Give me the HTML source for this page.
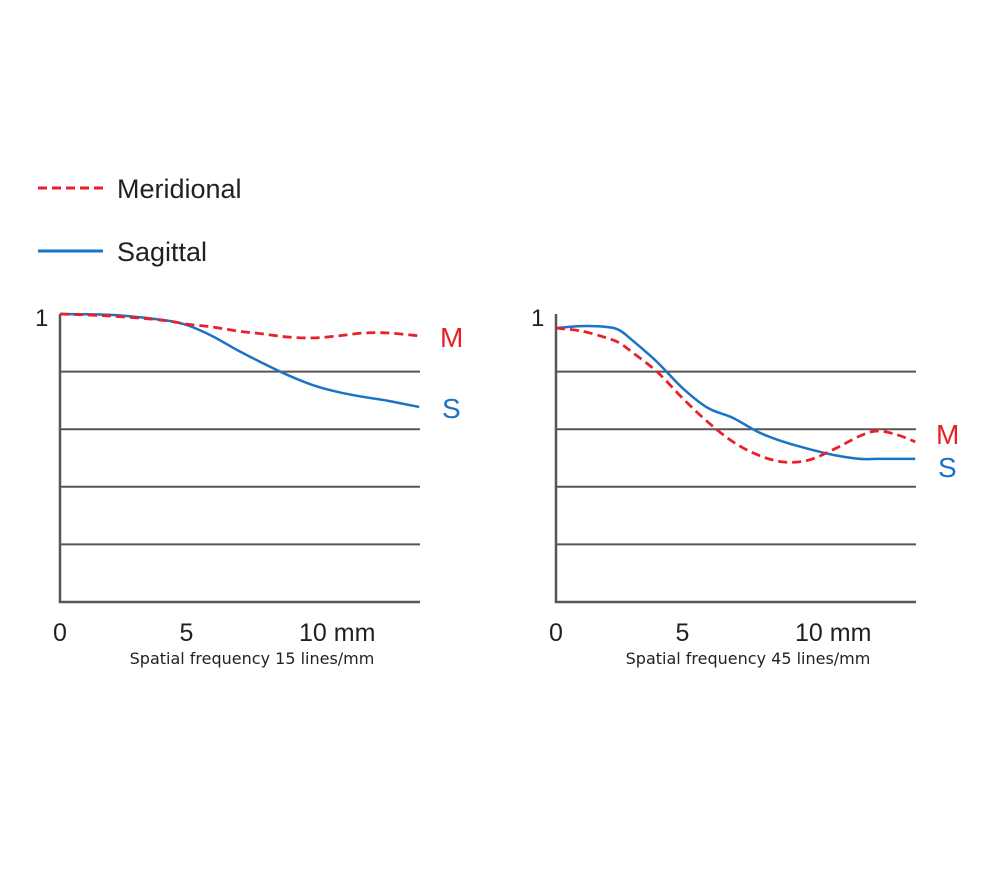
<!DOCTYPE html>
<html><head><meta charset="utf-8"><style>
body{margin:0;background:#fff;width:1000px;height:875px;overflow:hidden}
svg{display:block}
</style></head><body>
<svg id="chart" width="1000" height="875" xmlns="http://www.w3.org/2000/svg" font-family="Liberation Sans, sans-serif">
<g>
 <line x1="38" y1="188" x2="103" y2="188" stroke="#e8202a" stroke-width="3" stroke-dasharray="9,5"/>
 <text x="117" y="198" font-size="27" fill="#231f20">Meridional</text>
 <line x1="38" y1="251" x2="103" y2="251" stroke="#1a73c4" stroke-width="3"/>
 <text x="117" y="261" font-size="27" fill="#231f20">Sagittal</text>
</g>
</svg>
<script>
const xTicks=[0,5,10];
const leftX=[0,2,4,5,6,7,8,9,10,11,12,13,14.2];
const leftM=[1.0,0.993,0.979,0.965,0.955,0.941,0.931,0.92,0.917,0.924,0.934,0.934,0.924];
const leftS=[1.0,0.997,0.98,0.962,0.924,0.875,0.83,0.788,0.753,0.729,0.712,0.698,0.677];
const rightX=[0,1,2,2.5,3,4,5,6,7,8,9,10,11,12,12.7,13.5,14.2];
const rightS=[0.951,0.958,0.955,0.944,0.91,0.833,0.743,0.674,0.639,0.59,0.556,0.531,0.51,0.497,0.497,0.497,0.497];
const rightM=[0.951,0.941,0.917,0.9,0.868,0.799,0.708,0.625,0.556,0.51,0.486,0.493,0.531,0.576,0.594,0.58,0.556];
const svg=document.getElementById('chart');const NS='http://www.w3.org/2000/svg';
function mk(t,a){const e=document.createElementNS(NS,t);for(const k in a)e.setAttribute(k,a[k]);svg.appendChild(e);return e;}
function path(pts){let d='M'+pts[0][0]+','+pts[0][1];for(let i=0;i<pts.length-1;i++){const p0=pts[i-1]||pts[i],p1=pts[i],p2=pts[i+1],p3=pts[i+2]||p2;
d+=' C'+(p1[0]+(p2[0]-p0[0])/6)+','+(p1[1]+(p2[1]-p0[1])/6)+' '+(p2[0]-(p3[0]-p1[0])/6)+','+(p2[1]-(p3[1]-p1[1])/6)+' '+p2[0]+','+p2[1];}return d;}
function panel(x0,name,xs,m,s,caption,mY,sY){
 const sx=v=>x0+v*25.3, sy=v=>602-v*288, xEnd=x0+360;
 for(let g=1;g<=4;g++){const l=mk('line',{x1:x0,x2:xEnd,y1:sy(g*0.2),y2:sy(g*0.2),stroke:'#5a5455','stroke-width':2});
  }
 const ax=mk('path',{d:`M${x0},314 V602 H${xEnd}`,fill:'none',stroke:'#5a5455','stroke-width':2.5});
 
 const one=mk('text',{x:x0-25,y:326,'font-size':24,fill:'#231f20'});one.textContent='1';
 
 xTicks.forEach((t,i)=>{const tx=mk('text',{x:sx(t),y:641,'font-size':25,fill:'#231f20','text-anchor':i==2?'start':'middle'});
  if(i==2)tx.setAttribute('x',sx(t)-14);tx.textContent=i==2?'10 mm':String(t);
  });
 const c=mk('text',{x:x0+192,y:664,'font-size':16,fill:'#231f20','text-anchor':'middle','font-family':'DejaVu Sans, sans-serif'});c.textContent=caption;
 
 const ps=mk('path',{d:path(xs.map((x,i)=>[sx(x),sy(s[i])])),fill:'none',stroke:'#1a73c4','stroke-width':2.5});
 
 const pm=mk('path',{d:path(xs.map((x,i)=>[sx(x),sy(m[i])])),fill:'none',stroke:'#e8202a','stroke-width':2.8,'stroke-dasharray':'9,5'});
 
 const lm=mk('text',{x:xEnd+20,y:mY,'font-size':28,fill:'#e8202a'});lm.textContent='M';
 
 const ls=mk('text',{x:xEnd+22,y:sY,'font-size':28,fill:'#1a73c4'});ls.textContent='S';
 
}
panel(60,'left-chart',leftX,leftM,leftS,'Spatial frequency 15 lines/mm',347,418);
panel(556,'right-chart',rightX,rightM,rightS,'Spatial frequency 45 lines/mm',444,477);
</script>
</body></html>
